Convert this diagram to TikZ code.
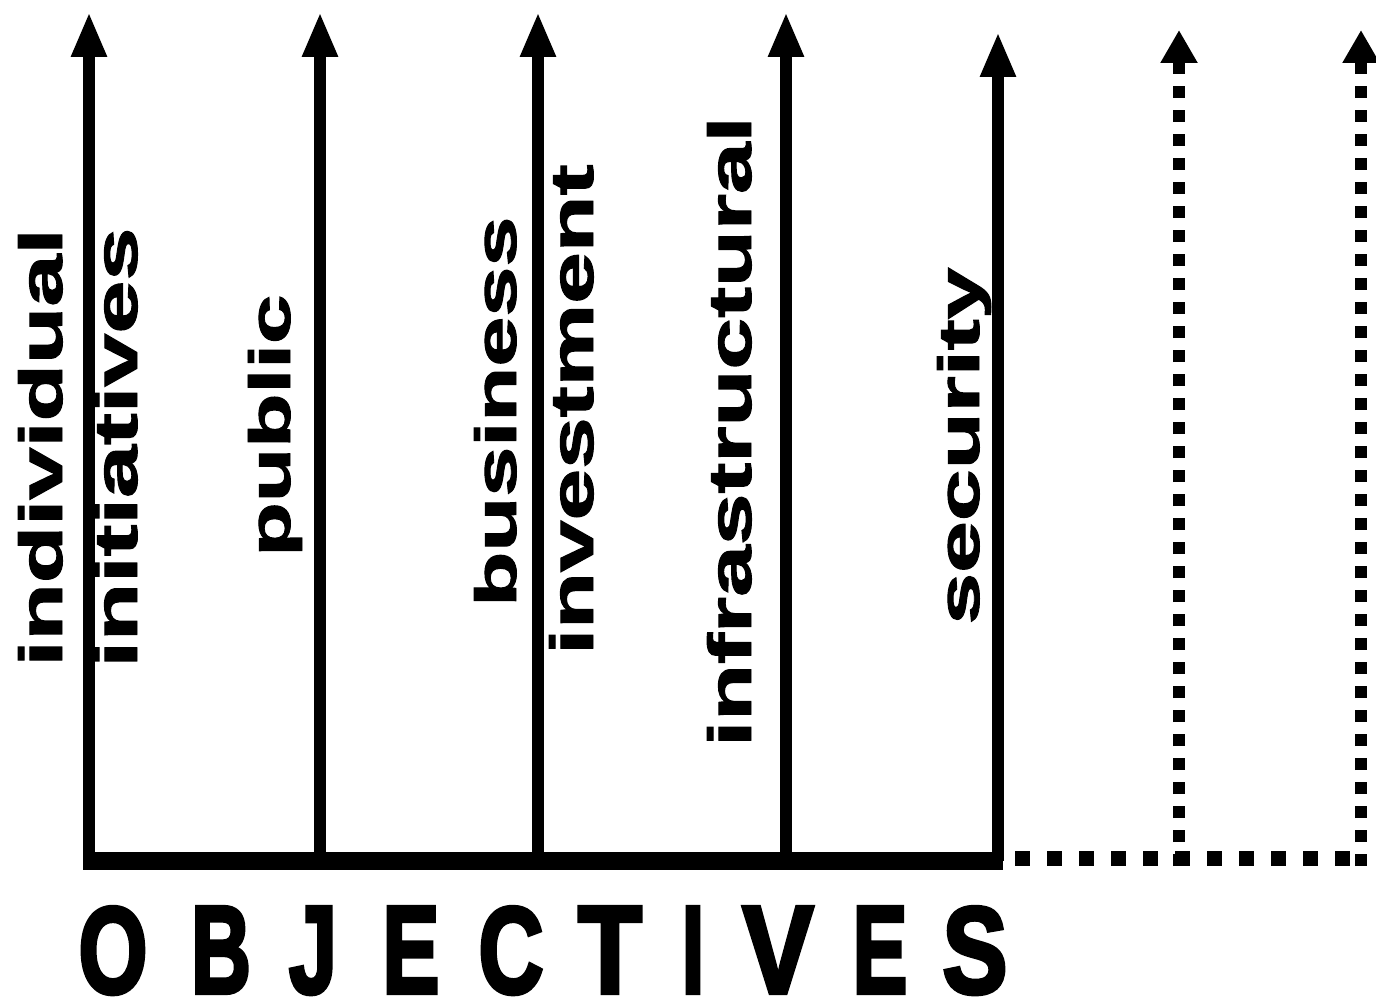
\documentclass[tikz,border=0pt]{standalone}
\usepackage{fontspec}
\setmainfont{Liberation Sans}
\newfontfamily\lblfont[FakeBold=1.5]{Liberation Sans Bold}
\newfontfamily\heavyfont[FakeBold=3.5]{Liberation Sans Bold}
\usetikzlibrary{arrows.meta}
\begin{document}
\begin{tikzpicture}[x=0.5pt,y=-0.5pt,
  axisline/.style={line width=6pt,-{Triangle[width=16.5pt,length=22.5pt]}},
  baseaxis/.style={line width=9pt},
  dotaxis/.style={line width=6pt,dash pattern=on 6pt off 6pt,-{Triangle[width=17.5pt,length=16.5pt]}},
  dotbase/.style={line width=7.5pt,dash pattern=on 7.5pt off 8.5pt},
  lbl/.style={rotate=90,anchor=base west,inner sep=0pt,font=\lblfont},
  bigletter/.style={anchor=base,inner sep=0pt,font=\heavyfont}]
\fill[white] (0,0) rectangle (1376,1000);
\useasboundingbox (0,0) rectangle (1376,1000);
% base coordinates
\coordinate (bl) at (83,861);
\coordinate (br) at (1003,861);
\coordinate (b1) at (89,861);  \coordinate (t1) at (89,12);
\coordinate (b2) at (320,861); \coordinate (t2) at (320,12);
\coordinate (b3) at (538,861); \coordinate (t3) at (538,12);
\coordinate (b4) at (786,861); \coordinate (t4) at (786,12);
\coordinate (b5) at (998,861); \coordinate (t5) at (998,32);
\coordinate (d0) at (1015,858); \coordinate (d2end) at (1367,858);
\coordinate (d1) at (1179,866); \coordinate (u1) at (1179,30);
\coordinate (d2) at (1361,866); \coordinate (u2) at (1361,30);
% solid axes
\draw[baseaxis] (bl) -- (br);
\draw[axisline] (b1) -- (t1);
\draw[axisline] (b2) -- (t2);
\draw[axisline] (b3) -- (t3);
\draw[axisline] (b4) -- (t4);
\draw[axisline] (b5) -- (t5);
% dotted continuation
\draw[dotbase] (d0) -- (d2end);
\draw[dotaxis] (d1) -- (u1);
\draw[dotaxis] (d2) -- (u2);
% vertical labels
\node[lbl] (w1) at (62,667) {\resizebox{219pt}{22pt}{individual}};
\node[lbl] (w2) at (137,668) {\resizebox{220pt}{22pt}{initiatives}};
\node[lbl] (w3) at (290,557) {\resizebox{131pt}{21pt}{public}};
\node[lbl] (w4) at (516,607) {\resizebox{195pt}{21pt}{business}};
\node[lbl] (w5) at (593,655) {\resizebox{245pt}{22pt}{investment}};
\node[lbl] (w6) at (751,747) {\resizebox{315pt}{22pt}{infrastructural}};
\node[lbl] (w7) at (979,625) {\resizebox{178.5pt}{21pt}{security}};
% OBJECTIVES
\node[bigletter] (o1) at (113,993) {\resizebox{34.5pt}{43pt}{O}};
\node[bigletter] (o2) at (221,993) {\resizebox{30pt}{43pt}{B}};
\node[bigletter] (o3) at (313,993) {\resizebox{24pt}{43pt}{J}};
\node[bigletter] (o4) at (411,993) {\resizebox{28.5pt}{43pt}{E}};
\node[bigletter] (o5) at (511,993) {\resizebox{32.5pt}{43pt}{C}};
\node[bigletter] (o6) at (610,993) {\resizebox{32pt}{43pt}{T}};
\node[bigletter] (o7) at (693,993) {\resizebox{11.5pt}{43pt}{I}};
\node[bigletter] (o8) at (778,993) {\resizebox{35.5pt}{43pt}{V}};
\node[bigletter] (o9) at (880,993) {\resizebox{27.5pt}{43pt}{E}};
\node[bigletter] (o10) at (975,993) {\resizebox{32.5pt}{43pt}{S}};
\end{tikzpicture}
\end{document}
